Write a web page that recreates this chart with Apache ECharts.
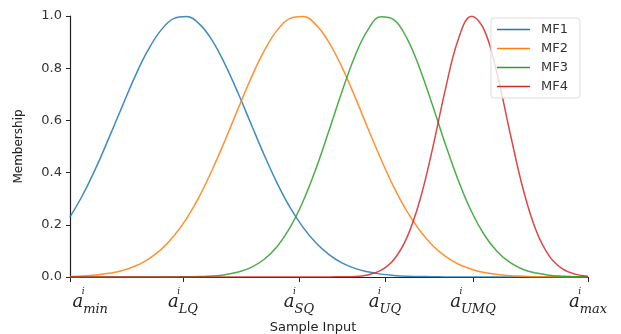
<!DOCTYPE html>
<html>
<head>
<meta charset="utf-8">
<script src="https://cdn.jsdelivr.net/npm/echarts@6/dist/echarts.min.js"></script>
<style>
    html, body {margin: 0; padding: 0; background: #fff;}
    #chart {width: 621px; height: 334px;}
</style>
</head>
<body>
<div id="chart"></div>
<script>
// sample input positions (0 = a_min, 100 = a_max)
const xValues = [0, 2.5, 5, 7.5, 10, 12.5, 15, 17.5, 20, 22.5, 25, 27.5, 30, 32.5, 35, 37.5, 40, 42.5, 45, 47.5,
    50, 52.5, 55, 57.5, 60, 62.5, 65, 67.5, 70, 72.5, 75, 77.5, 80, 82.5, 85, 87.5, 90, 92.5, 95, 97.5, 100];

const mf1 = [0.230, 0.316, 0.418, 0.532, 0.650, 0.766, 0.867, 0.944, 0.990, 0.998, 0.969, 0.905, 0.812, 0.702,
    0.584, 0.467, 0.359, 0.266, 0.190, 0.130, 0.086, 0.054, 0.033, 0.020, 0.011, 0.006, 0.003, 0.002, 0.001,
    0, 0, 0, 0, 0, 0, 0, 0, 0, 0, 0, 0];
const mf2 = [0.002, 0.004, 0.008, 0.014, 0.024, 0.041, 0.067, 0.104, 0.156, 0.224, 0.310, 0.413, 0.527, 0.647,
    0.764, 0.867, 0.946, 0.991, 0.998, 0.966, 0.899, 0.804, 0.691, 0.570, 0.453, 0.345, 0.253, 0.179, 0.121,
    0.079, 0.049, 0.030, 0.017, 0.010, 0.005, 0.003, 0.001, 0.001, 0, 0, 0];
const mf3 = [0, 0, 0, 0, 0, 0, 0, 0, 0, 0.001, 0.002, 0.004, 0.009, 0.019, 0.037, 0.068, 0.117, 0.190, 0.290,
    0.416, 0.561, 0.710, 0.846, 0.947, 0.997, 0.986, 0.916, 0.800, 0.657, 0.507, 0.368, 0.251, 0.161, 0.097,
    0.055, 0.029, 0.015, 0.007, 0.003, 0.001, 0.001];
const mf4 = [0, 0, 0, 0, 0, 0, 0, 0, 0, 0, 0, 0, 0, 0, 0, 0, 0, 0, 0, 0, 0, 0.001, 0.002, 0.008, 0.025, 0.066,
    0.149, 0.291, 0.493, 0.722, 0.913, 0.999, 0.945, 0.774, 0.548, 0.335, 0.177, 0.081, 0.032, 0.011, 0.003];

const seriesNames = ['MF1', 'MF2', 'MF3', 'MF4'];
const seriesColors = ['#1f77b4', '#ff7f0e', '#2ca02c', '#d62728'];

// x ticks and their subscripts
const tickValues = [0, 21.8, 44.2, 60.8, 77.8, 100];
const labelValues = [3.9, 21.8, 44.2, 60.8, 77.8, 100];
const tickSubs = ['min', 'LQ', 'SQ', 'UQ', 'UMQ', 'max'];

const yTicks = [0, 0.2, 0.4, 0.6, 0.8, 1.0];

const chart = echarts.init(document.getElementById('chart'));

const mathFont = {fontFamily: 'DejaVu Serif', fontStyle: 'italic', color: '#222'};

// plain line as legend marker (thin invisible slivers keep the box 12px tall)
const lineIcon = 'path://M0,0 L33,0 L33,0.01 L0,0.01 Z M0,5.3 L33,5.3 L33,6.8 L0,6.8 Z M0,12 L33,12 L33,12.01 L0,12.01 Z';

const series = [mf1, mf2, mf3, mf4].map((vals, i) => ({
    name: seriesNames[i],
    type: 'line',
    symbol: 'none',
    smooth: 0.4,
    data: xValues.map((x, j) => [x, vals[j]]),
    lineStyle: {color: seriesColors[i], width: 1.5, opacity: 0.85},
    itemStyle: {color: seriesColors[i]}
}));

const option = {
    animation: false,
    textStyle: {fontFamily: 'DejaVu Sans'},
    grid: {left: 70, right: 33, top: 16, bottom: 57, outerBoundsMode: 'none'},
    legend: {
        orient: 'vertical',
        left: 491,
        top: 18,
        icon: lineIcon,
        itemWidth: 33,
        itemHeight: 12,
        itemGap: 6,
        padding: [5, 12, 5, 6],
        borderColor: '#dcdcdc',
        borderWidth: 1,
        borderRadius: 3,
        backgroundColor: 'rgba(255,255,255,0.8)',
        textStyle: {fontSize: 13, color: '#333', padding: [0, 0, 0, 6]},
        data: seriesNames
    },
    xAxis: {
        type: 'value',
        min: 0,
        max: 100,
        name: 'Sample Input',
        nameLocation: 'middle',
        nameGap: 39,
        nameTextStyle: {fontSize: 13, color: '#222', padding: [0, 32, 0, 0]},
        axisLine: {lineStyle: {color: '#222', width: 1.2}},
        axisTick: {customValues: tickValues, length: 5, lineStyle: {color: '#222'}},
        splitLine: {show: false},
        axisLabel: {
            customValues: labelValues,
            margin: 14,
            formatter: function (value) {
                const sub = tickSubs[labelValues.indexOf(value)];
                return '{ga|a}{sup|i}{gs|' + sub + '}\n{a|a}{sub|' + sub + '}';
            },
            rich: {
                ga: Object.assign({}, mathFont, {fontSize: 18, lineHeight: 2, color: 'rgba(0,0,0,0)'}),
                sup: Object.assign({}, mathFont, {fontSize: 9, lineHeight: 2}),
                gs: Object.assign({}, mathFont, {fontSize: 13, lineHeight: 2, color: 'rgba(0,0,0,0)'}),
                a: Object.assign({}, mathFont, {fontSize: 18, lineHeight: 14, verticalAlign: 'top'}),
                sub: Object.assign({}, mathFont, {fontSize: 13, lineHeight: 23, verticalAlign: 'bottom'})
            }
        }
    },
    yAxis: {
        type: 'value',
        min: 0,
        max: 1,
        interval: 0.2,
        name: 'Membership',
        nameLocation: 'middle',
        nameGap: 45,
        nameTextStyle: {fontSize: 12, color: '#222'},
        axisLine: {show: true, lineStyle: {color: '#222', width: 1.2}},
        axisTick: {show: true, customValues: yTicks, length: 4, lineStyle: {color: '#222'}},
        splitLine: {show: false},
        axisLabel: {
            customValues: yTicks,
            margin: 8,
            fontSize: 13,
            color: '#333',
            formatter: v => v.toFixed(1)
        }
    },
    series: series
};

chart.setOption(option);
</script>
</body>
</html>
